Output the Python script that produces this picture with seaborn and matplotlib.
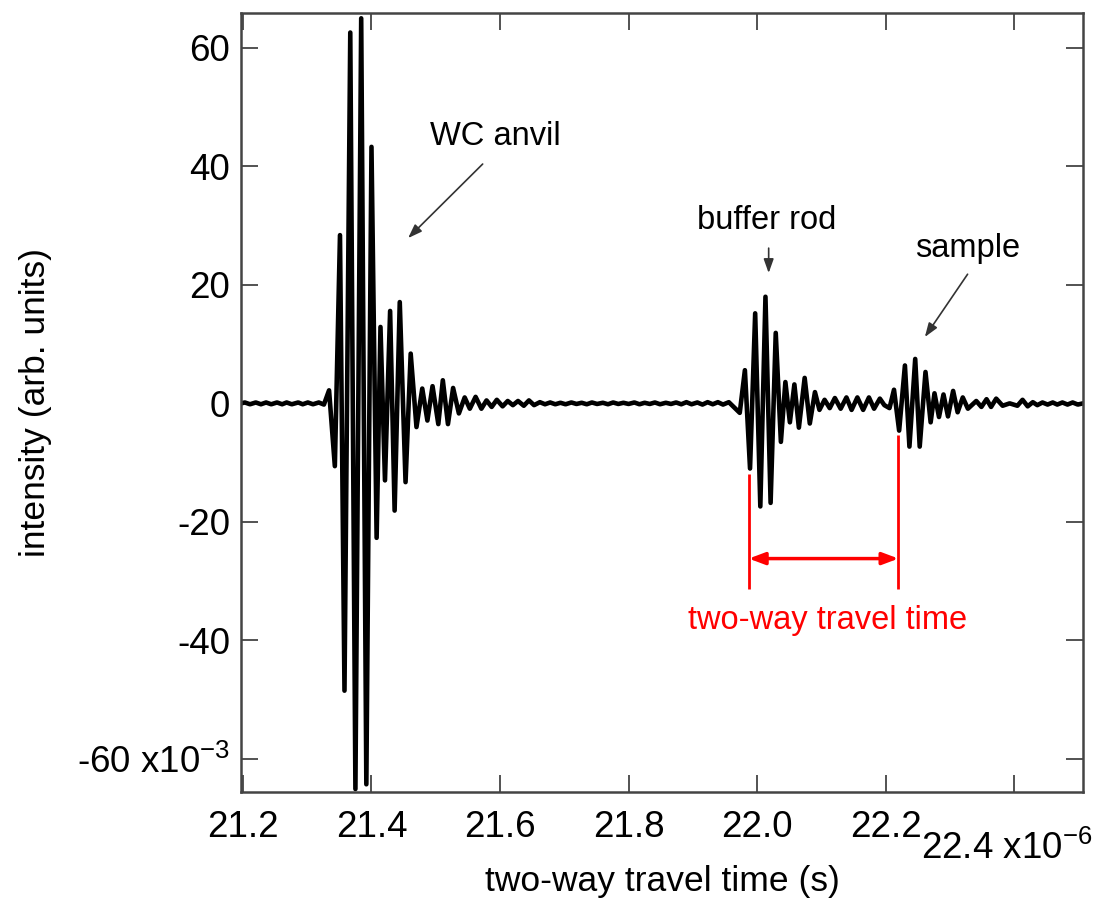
import matplotlib
matplotlib.use("Agg")
import matplotlib.pyplot as plt
import seaborn as sns
import pandas as pd

# ---------------- data (time in microseconds, intensity in 1e-3 arb. units) ----------------
pre_t = [21.197, 21.203, 21.211, 21.220, 21.228, 21.236, 21.244, 21.253, 21.261, 21.268,
         21.276, 21.286, 21.293, 21.301, 21.309, 21.318, 21.326]
pre_v = [0.0, 0.15, -0.15, 0.15, -0.15, 0.15, -0.15, 0.15, -0.15, 0.15,
         -0.15, 0.15, -0.15, 0.15, -0.15, 0.15, -0.2]

anvil_t = [21.334, 21.343, 21.351, 21.358, 21.367, 21.375, 21.384, 21.392, 21.400, 21.408,
           21.414, 21.421, 21.429, 21.436, 21.444, 21.453, 21.461, 21.470, 21.479, 21.487,
           21.495, 21.504, 21.511, 21.519, 21.527, 21.536, 21.545, 21.553, 21.562, 21.571,
           21.579, 21.587, 21.595, 21.604, 21.612, 21.620, 21.628, 21.637, 21.645, 21.653]
anvil_v = [2.2, -10.6, 28.4, -48.5, 62.6, -65.1, 65.0, -64.3, 43.3, -22.7,
           12.9, -13.0, 15.6, -18.1, 17.1, -13.3, 8.4, -4.0, 2.5, -2.9,
           2.9, -3.5, 3.9, -3.5, 2.6, -1.7, 1.0, -0.9, 1.1, -0.9,
           0.5, -0.6, 0.6, -0.5, 0.4, -0.3, 0.4, -0.4, 0.5, -0.3]

quiet_t = [21.662, 21.670, 21.678, 21.686, 21.694, 21.702, 21.711, 21.719, 21.727, 21.735,
           21.743, 21.751, 21.760, 21.768, 21.776, 21.784, 21.792, 21.800, 21.809, 21.817,
           21.825, 21.833, 21.841, 21.849, 21.858, 21.866, 21.874, 21.882, 21.890, 21.898,
           21.907, 21.915, 21.923, 21.931, 21.939, 21.947, 21.956]
quiet_v = [0.2, -0.15, 0.15, -0.15, 0.1, -0.15, 0.15, -0.1, 0.1, -0.15,
           0.15, -0.1, 0.1, -0.15, 0.15, -0.1, 0.1, -0.1, 0.15, -0.15,
           0.1, -0.1, 0.15, -0.15, 0.1, -0.1, 0.15, -0.15, 0.2, -0.15,
           0.15, -0.2, 0.2, -0.15, 0.2, -0.2, 0.2]

buffer_t = [21.973, 21.981, 21.989, 21.997, 22.005, 22.013, 22.021, 22.029, 22.037, 22.044,
            22.051, 22.058, 22.065, 22.074, 22.082, 22.090, 22.097, 22.105, 22.113, 22.121,
            22.130, 22.139, 22.147, 22.156, 22.165, 22.174, 22.182, 22.191, 22.198, 22.206]
buffer_v = [-1.6, 5.6, -11.0, 15.2, -17.4, 18.0, -16.8, 11.9, -6.5, 3.6,
            -3.2, 3.2, -4.1, 4.3, -3.4, 1.9, -1.1, 0.6, -0.8, 0.9,
            -0.9, 1.0, -1.1, 1.0, -1.1, 1.0, -0.9, 0.8, -0.3, -0.8]

sample_t = [22.213, 22.221, 22.230, 22.237, 22.246, 22.253, 22.262, 22.270, 22.276, 22.283,
            22.290, 22.297, 22.305, 22.312, 22.320, 22.328, 22.341, 22.349, 22.357, 22.364,
            22.372, 22.382, 22.393, 22.405, 22.413, 22.421, 22.429, 22.436, 22.444, 22.452,
            22.460, 22.467, 22.475, 22.483, 22.491, 22.499, 22.507]
sample_v = [2.3, -4.6, 6.4, -7.3, 7.5, -7.3, 5.3, -3.2, 1.7, -2.3,
            1.5, -2.2, 2.1, -1.5, 1.0, -0.9, 0.4, -0.6, 0.7, -0.6,
            0.8, -0.4, 0.0, -0.4, 0.6, -0.5, 0.2, -0.3, 0.15, -0.2,
            0.15, -0.2, 0.15, -0.2, 0.15, -0.2, 0.0]

xtick_values = [21.2, 21.4, 21.6, 21.8, 22.0, 22.2, 22.4]
xtick_labels = ["21.2", "21.4", "21.6", "21.8", "22.0", "22.2", ""]
ytick_values = [-60, -40, -20, 0, 20, 40, 60]
ytick_labels = [r"-60 x10$^{\mathregular{-3}}$", "-40", "-20", "0", "20", "40", "60"]

# annotation anchors (data units)
travel_marks = [21.987, 22.220]
travel_mark_tops = [-12.0, -5.4]
travel_mark_bottom = -31.3
travel_arrow_y = -26.2

# ---------------- plotting ----------------
sns.set_theme(style="ticks")
plt.rcParams["font.family"] = ["Liberation Sans", "DejaVu Sans"]
plt.rcParams["mathtext.fontset"] = "custom"
plt.rcParams["mathtext.rm"] = "Liberation Sans"
plt.rcParams["mathtext.it"] = "Liberation Sans:italic"
plt.rcParams["mathtext.bf"] = "Liberation Sans:bold"
plt.rcParams["axes.unicode_minus"] = False
plt.rcParams["text.color"] = "black"

times = pre_t + anvil_t + quiet_t + buffer_t + sample_t
values = pre_v + anvil_v + quiet_v + buffer_v + sample_v
df = pd.DataFrame({"t": times, "v": values})

fig = plt.figure(figsize=(10.99, 9), dpi=100)
ax = fig.add_axes([0.2193, 0.12, 0.7661, 0.8656])

sns.lineplot(data=df, x="t", y="v", color="black", lw=3.3, estimator=None, sort=False, ax=ax)

ax.set_xlim(21.197, 22.507)
ax.set_ylim(-65.6, 65.9)
ax.set_xticks(xtick_values)
ax.set_xticklabels(xtick_labels)
ax.set_yticks(ytick_values)
ax.set_yticklabels(ytick_labels)

ax.tick_params(axis="both", direction="in", top=True, right=True, length=12,
               width=1.3, color="#444444", labelsize=26.5, labelcolor="black")
ax.tick_params(axis="x", pad=13)
ax.tick_params(axis="y", pad=8)
for sp in ax.spines.values():
    sp.set_color("#444444")
    sp.set_linewidth(1.8)

ax.set_xlabel("two-way travel time (s)", fontsize=25.5, color="black")
ax.set_ylabel("intensity (arb. units)", fontsize=25.5, color="black")
ax.xaxis.set_label_coords(0.5, -0.094)
ax.yaxis.set_label_coords(-0.225, 0.5)

ax.annotate(r"22.4 x10$^{\mathregular{-6}}$", xy=(22.388, 0), xycoords=("data", "axes fraction"),
            xytext=(0, -28), textcoords="offset points", ha="center", va="top", fontsize=26.5)

arrow_kw = dict(arrowstyle="-|>,head_length=0.7,head_width=0.25", color="#333333", lw=1.2,
                shrinkA=0, shrinkB=0)
ax.text(21.593, 45.0, "WC anvil", fontsize=23.5, ha="center", va="center", color="black")
ax.annotate("", xy=(21.457, 27.9), xytext=(21.573, 40.4), arrowprops=arrow_kw)
ax.text(22.015, 30.9, "buffer rod", fontsize=23.5, ha="center", va="center", color="black")
ax.annotate("", xy=(22.018, 22.0), xytext=(22.018, 26.2), arrowprops=arrow_kw)
ax.text(22.328, 26.2, "sample", fontsize=23.5, ha="center", va="center", color="black")
ax.annotate("", xy=(22.261, 11.2), xytext=(22.3275, 21.8), arrowprops=arrow_kw)

ax.vlines(travel_marks, travel_mark_tops, travel_mark_bottom, colors="red", lw=2)
ax.annotate("", xy=(travel_marks[1], travel_arrow_y), xytext=(travel_marks[0], travel_arrow_y),
            arrowprops=dict(arrowstyle="<|-|>,head_length=0.8,head_width=0.3", color="red",
                            lw=2.5, shrinkA=0, shrinkB=0))
ax.text(22.110, -36.7, "two-way travel time", fontsize=23.5, color="red", ha="center", va="center")

fig.savefig("out.png", dpi=100)
